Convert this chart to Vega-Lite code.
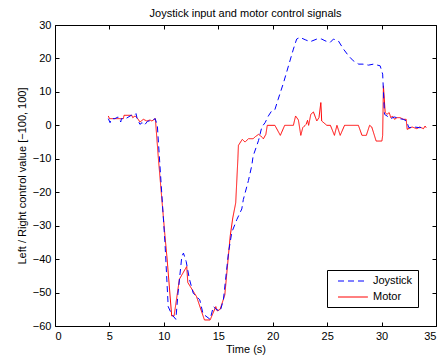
{
  "$schema": "https://vega.github.io/schema/vega-lite/v6.json",
  "autosize": {"type": "none"},
  "padding": {"left": 55, "top": 25, "right": 7, "bottom": 30},
  "width": 381,
  "height": 301,
  "background": "white",
  "title": {"text": "Joystick input and motor control signals", "font": "Liberation Sans", "fontSize": 11, "fontWeight": "normal", "color": "black", "offset": 0},
  "config": {
    "view": {"stroke": "black", "strokeWidth": 1},
    "axis": {"labelFont": "Liberation Sans", "labelFontSize": 11, "labelColor": "black", "titleFont": "Liberation Sans", "titleFontSize": 11, "titleFontWeight": "normal", "titleColor": "black", "grid": false, "domain": false, "tickColor": "black", "tickSize": -4, "labelPadding": 8},
    "legend": {"labelFont": "Liberation Sans", "labelFontSize": 11, "labelColor": "black"}
  },
  "datasets": {
    "sig": [
      {"t": 4.9, "v": 2.8, "s": "Motor"}, {"t": 5.0, "v": 2.0, "s": "Motor"}, {"t": 6.28, "v": 2.0, "s": "Motor"}, {"t": 6.34, "v": 3.0, "s": "Motor"}, {"t": 7.05, "v": 3.0, "s": "Motor"}, {"t": 7.14, "v": 2.3, "s": "Motor"}, {"t": 7.35, "v": 2.8, "s": "Motor"}, {"t": 7.55, "v": 2.2, "s": "Motor"}, {"t": 7.81, "v": 1.0, "s": "Motor"}, {"t": 8.12, "v": 1.8, "s": "Motor"}, {"t": 8.43, "v": 1.3, "s": "Motor"}, {"t": 8.73, "v": 1.6, "s": "Motor"}, {"t": 8.9, "v": 1.3, "s": "Motor"}, {"t": 9.22, "v": 2.0, "s": "Motor"}, {"t": 9.5, "v": -10, "s": "Motor"}, {"t": 10.1, "v": -33, "s": "Motor"}, {"t": 10.3, "v": -40, "s": "Motor"}, {"t": 10.72, "v": -57, "s": "Motor"}, {"t": 10.94, "v": -57, "s": "Motor"}, {"t": 11.43, "v": -46, "s": "Motor"}, {"t": 12.1, "v": -42.2, "s": "Motor"}, {"t": 12.2, "v": -47, "s": "Motor"}, {"t": 13.0, "v": -51.2, "s": "Motor"}, {"t": 13.73, "v": -58.2, "s": "Motor"}, {"t": 14.25, "v": -58.2, "s": "Motor"}, {"t": 14.77, "v": -54.2, "s": "Motor"}, {"t": 14.9, "v": -55.5, "s": "Motor"}, {"t": 15.17, "v": -55, "s": "Motor"}, {"t": 15.6, "v": -50.7, "s": "Motor"}, {"t": 16.1, "v": -33, "s": "Motor"}, {"t": 16.33, "v": -27.7, "s": "Motor"}, {"t": 16.6, "v": -23.2, "s": "Motor"}, {"t": 16.8, "v": -10, "s": "Motor"}, {"t": 16.85, "v": -6, "s": "Motor"}, {"t": 17.2, "v": -4.2, "s": "Motor"}, {"t": 17.46, "v": -5, "s": "Motor"}, {"t": 17.77, "v": -4, "s": "Motor"}, {"t": 18.2, "v": -4, "s": "Motor"}, {"t": 18.4, "v": -3.4, "s": "Motor"}, {"t": 18.7, "v": -2.7, "s": "Motor"}, {"t": 18.9, "v": -3.2, "s": "Motor"}, {"t": 19.15, "v": -4, "s": "Motor"}, {"t": 19.37, "v": -2.7, "s": "Motor"}, {"t": 19.5, "v": 0, "s": "Motor"}, {"t": 20.2, "v": 0, "s": "Motor"}, {"t": 20.7, "v": -3, "s": "Motor"}, {"t": 21.1, "v": 0, "s": "Motor"}, {"t": 21.9, "v": 0, "s": "Motor"}, {"t": 22.1, "v": 2.8, "s": "Motor"}, {"t": 22.36, "v": 1.6, "s": "Motor"}, {"t": 22.58, "v": -3, "s": "Motor"}, {"t": 22.76, "v": -0.7, "s": "Motor"}, {"t": 23.07, "v": 0.3, "s": "Motor"}, {"t": 23.2, "v": 1.5, "s": "Motor"}, {"t": 23.3, "v": 0, "s": "Motor"}, {"t": 23.5, "v": 3.3, "s": "Motor"}, {"t": 23.74, "v": 4.0, "s": "Motor"}, {"t": 24.05, "v": 1.3, "s": "Motor"}, {"t": 24.25, "v": 2.3, "s": "Motor"}, {"t": 24.42, "v": 6.8, "s": "Motor"}, {"t": 24.5, "v": 1.3, "s": "Motor"}, {"t": 24.97, "v": 0, "s": "Motor"}, {"t": 25.3, "v": 0, "s": "Motor"}, {"t": 25.67, "v": -3, "s": "Motor"}, {"t": 25.9, "v": 0, "s": "Motor"}, {"t": 26.2, "v": -3, "s": "Motor"}, {"t": 26.6, "v": 0, "s": "Motor"}, {"t": 27.87, "v": 0, "s": "Motor"}, {"t": 28.2, "v": -3, "s": "Motor"}, {"t": 28.6, "v": -3, "s": "Motor"}, {"t": 28.9, "v": 0, "s": "Motor"}, {"t": 29.1, "v": -0.5, "s": "Motor"}, {"t": 29.5, "v": -4.7, "s": "Motor"}, {"t": 30.03, "v": -4.7, "s": "Motor"}, {"t": 30.1, "v": -3, "s": "Motor"}, {"t": 30.17, "v": 11.8, "s": "Motor"}, {"t": 30.33, "v": 3.8, "s": "Motor"}, {"t": 30.5, "v": 3.3, "s": "Motor"}, {"t": 30.7, "v": 3.8, "s": "Motor"}, {"t": 30.85, "v": 2.3, "s": "Motor"}, {"t": 31.0, "v": 2.8, "s": "Motor"}, {"t": 31.2, "v": 1.8, "s": "Motor"}, {"t": 31.4, "v": 2.3, "s": "Motor"}, {"t": 31.7, "v": 2.3, "s": "Motor"}, {"t": 32.0, "v": 1.8, "s": "Motor"}, {"t": 32.26, "v": 1.8, "s": "Motor"}, {"t": 32.35, "v": -1.2, "s": "Motor"}, {"t": 32.8, "v": -0.5, "s": "Motor"}, {"t": 33.24, "v": -1.0, "s": "Motor"}, {"t": 33.5, "v": -0.5, "s": "Motor"}, {"t": 33.85, "v": -1.0, "s": "Motor"}, {"t": 34.0, "v": -0.2, "s": "Motor"}, {"t": 34.1, "v": -0.7, "s": "Motor"},
      {"t": 4.9, "v": 2.0, "s": "Joystick"}, {"t": 5.06, "v": 0.8, "s": "Joystick"}, {"t": 5.2, "v": 2.0, "s": "Joystick"}, {"t": 5.5, "v": 2.0, "s": "Joystick"}, {"t": 5.8, "v": 2.5, "s": "Joystick"}, {"t": 6.04, "v": 1.0, "s": "Joystick"}, {"t": 6.1, "v": 2.0, "s": "Joystick"}, {"t": 6.5, "v": 2.0, "s": "Joystick"}, {"t": 7.0, "v": 3.0, "s": "Joystick"}, {"t": 7.3, "v": 3.0, "s": "Joystick"}, {"t": 7.44, "v": 3.5, "s": "Joystick"}, {"t": 7.55, "v": 2.0, "s": "Joystick"}, {"t": 7.8, "v": 0.3, "s": "Joystick"}, {"t": 8.0, "v": 0.8, "s": "Joystick"}, {"t": 8.2, "v": 0, "s": "Joystick"}, {"t": 8.5, "v": 1.2, "s": "Joystick"}, {"t": 8.9, "v": 1.5, "s": "Joystick"}, {"t": 9.2, "v": 2.0, "s": "Joystick"}, {"t": 9.4, "v": 0, "s": "Joystick"}, {"t": 9.7, "v": -15, "s": "Joystick"}, {"t": 10.1, "v": -35, "s": "Joystick"}, {"t": 10.4, "v": -54.2, "s": "Joystick"}, {"t": 10.7, "v": -56.4, "s": "Joystick"}, {"t": 11.1, "v": -58, "s": "Joystick"}, {"t": 11.3, "v": -50.2, "s": "Joystick"}, {"t": 11.65, "v": -39.2, "s": "Joystick"}, {"t": 11.8, "v": -38.2, "s": "Joystick"}, {"t": 12.05, "v": -40.7, "s": "Joystick"}, {"t": 12.35, "v": -46, "s": "Joystick"}, {"t": 12.7, "v": -50.2, "s": "Joystick"}, {"t": 13.3, "v": -52.2, "s": "Joystick"}, {"t": 13.6, "v": -56.4, "s": "Joystick"}, {"t": 14.25, "v": -58, "s": "Joystick"}, {"t": 14.55, "v": -54.2, "s": "Joystick"}, {"t": 14.8, "v": -55, "s": "Joystick"}, {"t": 15.17, "v": -55.6, "s": "Joystick"}, {"t": 15.47, "v": -52.2, "s": "Joystick"}, {"t": 15.93, "v": -38.2, "s": "Joystick"}, {"t": 16.24, "v": -32, "s": "Joystick"}, {"t": 16.7, "v": -28.2, "s": "Joystick"}, {"t": 17.16, "v": -25, "s": "Joystick"}, {"t": 17.3, "v": -22.2, "s": "Joystick"}, {"t": 17.77, "v": -16.5, "s": "Joystick"}, {"t": 18.08, "v": -12, "s": "Joystick"}, {"t": 18.2, "v": -9.2, "s": "Joystick"}, {"t": 18.7, "v": -4.5, "s": "Joystick"}, {"t": 19.0, "v": -0.5, "s": "Joystick"}, {"t": 19.3, "v": 0.8, "s": "Joystick"}, {"t": 19.6, "v": 2.8, "s": "Joystick"}, {"t": 19.9, "v": 4.3, "s": "Joystick"}, {"t": 20.2, "v": 4.7, "s": "Joystick"}, {"t": 20.5, "v": 7.8, "s": "Joystick"}, {"t": 21.0, "v": 12.8, "s": "Joystick"}, {"t": 21.45, "v": 17.8, "s": "Joystick"}, {"t": 21.9, "v": 22.8, "s": "Joystick"}, {"t": 22.2, "v": 25.8, "s": "Joystick"}, {"t": 22.5, "v": 26.3, "s": "Joystick"}, {"t": 22.98, "v": 25.6, "s": "Joystick"}, {"t": 23.44, "v": 25, "s": "Joystick"}, {"t": 24.05, "v": 25.8, "s": "Joystick"}, {"t": 24.5, "v": 25.8, "s": "Joystick"}, {"t": 24.8, "v": 25.3, "s": "Joystick"}, {"t": 25.03, "v": 25, "s": "Joystick"}, {"t": 25.28, "v": 24.8, "s": "Joystick"}, {"t": 25.58, "v": 25.8, "s": "Joystick"}, {"t": 26.04, "v": 25.2, "s": "Joystick"}, {"t": 26.5, "v": 22.8, "s": "Joystick"}, {"t": 26.96, "v": 20.8, "s": "Joystick"}, {"t": 27.4, "v": 19.3, "s": "Joystick"}, {"t": 27.9, "v": 18.3, "s": "Joystick"}, {"t": 28.3, "v": 18.3, "s": "Joystick"}, {"t": 28.8, "v": 18, "s": "Joystick"}, {"t": 29.26, "v": 18.3, "s": "Joystick"}, {"t": 29.87, "v": 17.8, "s": "Joystick"}, {"t": 30.1, "v": 15.3, "s": "Joystick"}, {"t": 30.27, "v": 3.3, "s": "Joystick"}, {"t": 30.5, "v": 2.8, "s": "Joystick"}, {"t": 30.8, "v": 2.0, "s": "Joystick"}, {"t": 31.2, "v": 2.5, "s": "Joystick"}, {"t": 31.6, "v": 2.0, "s": "Joystick"}, {"t": 32.0, "v": 1.8, "s": "Joystick"}, {"t": 32.3, "v": 1.3, "s": "Joystick"}, {"t": 32.5, "v": -0.7, "s": "Joystick"}, {"t": 33.0, "v": -0.5, "s": "Joystick"}, {"t": 33.5, "v": -0.7, "s": "Joystick"}, {"t": 34.0, "v": -0.5, "s": "Joystick"}
    ]
  },
  "data": {"name": "sig"},
  "layer": [
    {
      "mark": {"type": "line", "strokeWidth": 1, "clip": true},
      "encoding": {
        "x": {"field": "t", "type": "quantitative", "scale": {"domain": [0, 35], "nice": false, "zero": false}, "axis": {"orient": "bottom", "values": [0, 5, 10, 15, 20, 25, 30, 35], "title": "Time (s)", "titlePadding": 2}},
        "y": {"field": "v", "type": "quantitative", "scale": {"domain": [-60, 30], "nice": false, "zero": false}, "axis": {"orient": "left", "values": [-60, -50, -40, -30, -20, -10, 0, 10, 20, 30], "title": "Left / Right control value [\u2212100, 100]", "titlePadding": 5}},
        "color": {"field": "s", "type": "nominal", "scale": {"domain": ["Joystick", "Motor"], "range": ["#0000ff", "#ff0000"]}, "legend": {"title": null, "orient": "none", "legendX": 272, "legendY": 245, "symbolType": "M0,0H5.6", "symbolSize": 114, "symbolStrokeWidth": 1, "strokeColor": "black", "fillColor": "white", "padding": 5, "rowPadding": 5, "labelOffset": 29}},
        "strokeDash": {"field": "s", "type": "nominal", "scale": {"domain": ["Joystick", "Motor"], "range": [[6, 4], [1, 0]]}, "legend": {"title": null, "orient": "none", "legendX": 272, "legendY": 245, "symbolType": "M0,0H5.6", "symbolSize": 114, "symbolStrokeWidth": 1, "strokeColor": "black", "fillColor": "white", "padding": 5, "rowPadding": 5, "labelOffset": 29}}
      }
    },
    {
      "mark": {"type": "line", "opacity": 0},
      "encoding": {
        "x": {"field": "t", "type": "quantitative", "axis": {"orient": "top", "values": [0, 5, 10, 15, 20, 25, 30, 35], "labels": false, "title": null}},
        "y": {"field": "v", "type": "quantitative", "axis": {"orient": "right", "values": [-60, -50, -40, -30, -20, -10, 0, 10, 20, 30], "labels": false, "title": null}},
        "detail": {"field": "s"}
      }
    }
  ],
  "resolve": {"axis": {"x": "independent", "y": "independent"}}
}
